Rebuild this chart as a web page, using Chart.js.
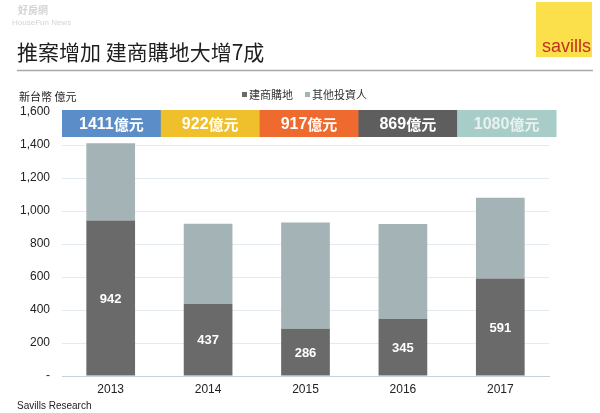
<!DOCTYPE html>
<html><head><meta charset="utf-8">
<script src="https://cdn.jsdelivr.net/npm/chart.js@4/dist/chart.umd.min.js"></script>
<style>html,body{margin:0;padding:0;background:#fff;}#wrap{width:600px;height:413px;position:relative;}</style>
</head><body><div id="wrap"><canvas id="c" width="600" height="413"></canvas></div>
<script>
const years = ['2013','2014','2015','2016','2017'];
const builderValues = [942, 437, 286, 345, 591];
const otherValues = [469, 485, 644, 576, 489];
const totalLabels = ['1411億元','922億元','917億元','869億元','1080億元'];
const bannerColors = ['#5b8ec9','#f0c02c','#ee6a2e','#5e5e5e','#a8ccc7'];
const bannerTextColors = ['#ffffff','#ffffff','#ffffff','#ffffff','#e8f2f0'];
const seriesNames = ['建商購地','其他投資人'];
const yTicks = [0,200,400,600,800,1000,1200,1400,1600];

const CJK = '"Noto Sans CJK TC","Noto Sans CJK SC",sans-serif';
const LAT = '"Liberation Sans",Arial,sans-serif';

const decor = {
  id:'decor',
  beforeDraw(chart){
    const ctx = chart.ctx;
    ctx.save();
    ctx.fillStyle='#fff';ctx.fillRect(0,0,chart.width,chart.height);
    // watermark
    ctx.fillStyle='#d4d4d4';
    ctx.font='bold 10px '+CJK;ctx.textBaseline='alphabetic';ctx.textAlign='left';
    ctx.fillText('好房網',18,14);
    ctx.font='8px '+LAT;ctx.fillText('HouseFun News',12,25);
    // title
    ctx.fillStyle='#1e1e1e';
    ctx.font='21px '+CJK;
    ctx.fillText('推案增加 建商購地大增7成',17,60);
    // rule
    ctx.strokeStyle='#a9a9a9';ctx.lineWidth=1.5;
    ctx.beginPath();ctx.moveTo(17,70.5);ctx.lineTo(593,70.5);ctx.stroke();
    // logo
    ctx.fillStyle='#fbe04b';ctx.fillRect(536,2,56,55);
    ctx.fillStyle='#c0321f';ctx.font='18px '+LAT;ctx.textAlign='right';
    ctx.fillText('savills',591,52);
    // unit
    ctx.textAlign='left';ctx.fillStyle='#222';ctx.font='11px '+CJK;
    ctx.fillText('新台幣 億元',19,101);
    // legend
    const ds = chart.data.datasets;
    let x=242;
    ctx.font='11px '+CJK;
    for(let i=0;i<ds.length;i++){
      ctx.fillStyle=ds[i].backgroundColor;ctx.fillRect(x,92,5,5);
      ctx.fillStyle='#333';ctx.fillText(ds[i].label,x+7,99);
      x+=7+ctx.measureText(ds[i].label).width+12;
    }
    // footer
    ctx.fillStyle='#222';ctx.font='10px '+LAT;
    ctx.fillText('Savills Research',17,409);
    ctx.restore();
  },
  afterDatasetsDraw(chart){
    const ctx=chart.ctx, a=chart.chartArea;
    ctx.save();
    // data labels for builder segment
    const meta=chart.getDatasetMeta(0);
    ctx.fillStyle='#fff';ctx.font='bold 13px '+LAT;ctx.textAlign='center';ctx.textBaseline='middle';
    meta.data.forEach((b,i)=>{
      const mid=(b.y+b.base)/2;
      ctx.fillText(String(builderValues[i]),b.x,mid+1);
    });
    // banner
    const left=a.left, right=a.right+7, n=totalLabels.length;
    const w=(right-left)/n;
    const yTop=chart.scales.y.getPixelForValue(1600)-2;
    const h=27;
    for(let i=0;i<n;i++){
      ctx.fillStyle=bannerColors[i];
      ctx.fillRect(left+i*w,yTop,w+0.5,h);
      ctx.fillStyle=bannerTextColors[i];
      const lbl=totalLabels[i];
      const num=lbl.replace('億元','');
      ctx.font='bold 16px '+LAT;const wn=ctx.measureText(num).width;
      ctx.font='bold 15px '+CJK;const wc=ctx.measureText('億元').width;
      const cx=left+i*w+w/2, sx=cx-(wn+wc)/2, cy=yTop+h/2+1;
      ctx.textAlign='left';
      ctx.font='bold 16px '+LAT;ctx.fillText(num,sx,cy);
      ctx.font='bold 15px '+CJK;ctx.fillText('億元',sx+wn,cy);
    }
    ctx.restore();
  }
};

new Chart(document.getElementById('c'),{
  type:'bar',
  data:{labels:years,datasets:[
    {label:seriesNames[0],data:builderValues,backgroundColor:'#6a6a6a',borderWidth:0,barPercentage:1,categoryPercentage:0.5},
    {label:seriesNames[1],data:otherValues,backgroundColor:'#a3b3b6',borderWidth:0,barPercentage:1,categoryPercentage:0.5}
  ]},
  options:{
    responsive:false,animation:false,devicePixelRatio:1,
    layout:{padding:{left:0,right:51,top:112,bottom:0}},
    plugins:{legend:{display:false},tooltip:{enabled:false}},
    scales:{
      x:{stacked:true,
        grid:{display:false,drawTicks:false},
        border:{display:true,color:'#c5d2dc',width:1},
        ticks:{color:'#222',font:{family:LAT,size:12},padding:6},
        afterFit(s){s.height=37;}
      },
      y:{stacked:true,min:0,max:1600,
        afterBuildTicks(s){s.ticks=yTicks.map(v=>({value:v}));},
        grid:{color:'#e3eaf0',drawTicks:false},
        border:{display:false},
        ticks:{color:'#222',font:{family:LAT,size:12},padding:12,
          callback:(v)=>v===0?'-':v.toLocaleString('en-US')},
        afterFit(s){s.width=62;}
      }
    }
  },
  plugins:[decor]
});
</script></body></html>
